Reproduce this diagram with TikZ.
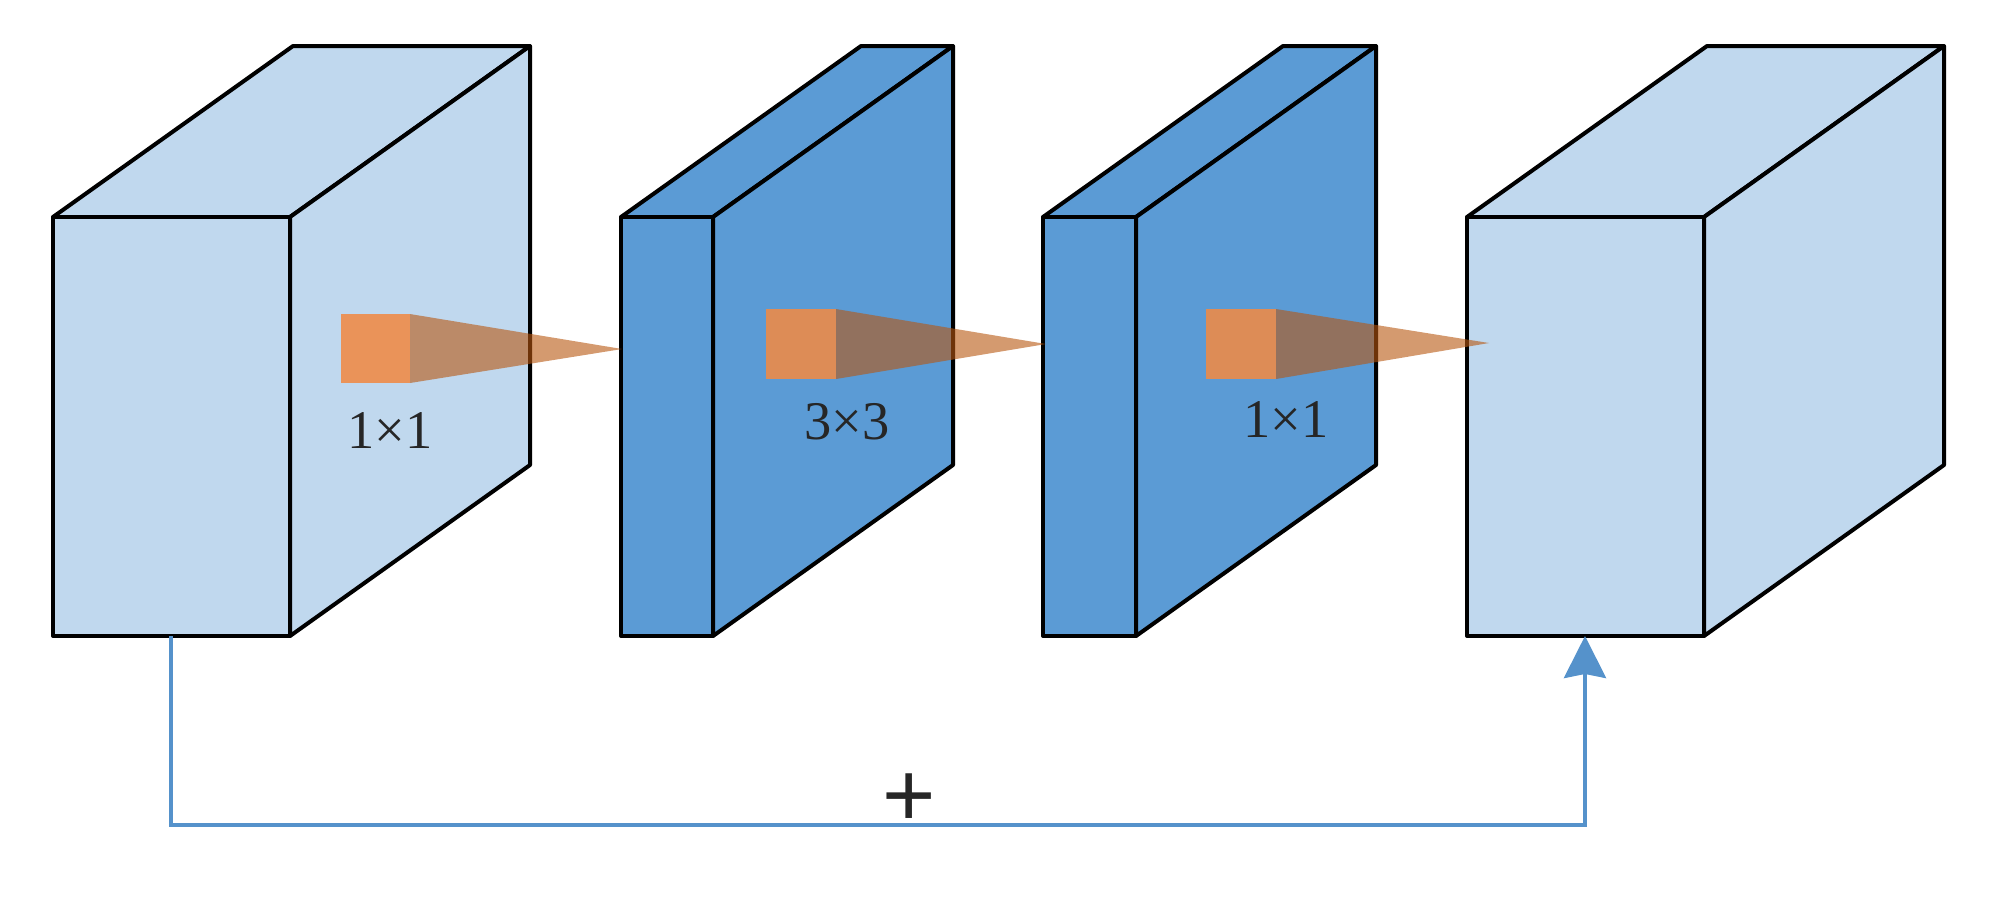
\documentclass[tikz,border=0pt]{standalone}
\usepackage{fontspec}
\setmainfont{Liberation Serif}
\newfontfamily\plusfont{Liberation Sans}
\usetikzlibrary{arrows.meta}
\definecolor{paleblue}{HTML}{C0D8EE}
\definecolor{midblue}{HTML}{5B9BD5}
\definecolor{skipblue}{HTML}{5592CB}
\definecolor{kernorange}{HTML}{F08A45}
\definecolor{conebrown}{HTML}{B8560F}
\definecolor{inkgray}{HTML}{262626}

\begin{document}
\begin{tikzpicture}[x=0.1mm, y=-0.1mm,
  edge/.style={line width=0.4mm, line join=round},
  pale/.style={edge, fill=paleblue},
  deep/.style={edge, fill=midblue},
  kern/.style={fill=kernorange, fill opacity=0.88},
  cone/.style={fill=conebrown, fill opacity=0.6},
  size/.style={text=inkgray, font=\fontsize{15.5}{15.5}\selectfont},
  skip/.style={draw=skipblue, line width=0.38mm, -{Stealth[length=4.2mm, width=4.2mm, inset=0.4mm]}}]
  \useasboundingbox (0,0) rectangle (2004,916);

  \draw[pale] (53,217) -- (293,46) -- (530,46) -- (290,217) -- cycle;
  \draw[pale] (290,217) -- (530,46) -- (530,465) -- (290,636) -- cycle;
  \draw[pale] (53,217) rectangle (290,636);

  \draw[deep] (621,217) -- (861,46) -- (953,46) -- (713,217) -- cycle;
  \draw[deep] (713,217) -- (953,46) -- (953,465) -- (713,636) -- cycle;
  \draw[deep] (621,217) rectangle (713,636);

  \draw[deep] (1043,217) -- (1283,46) -- (1376,46) -- (1136,217) -- cycle;
  \draw[deep] (1136,217) -- (1376,46) -- (1376,465) -- (1136,636) -- cycle;
  \draw[deep] (1043,217) rectangle (1136,636);

  \draw[pale] (1467,217) -- (1707,46) -- (1944,46) -- (1704,217) -- cycle;
  \draw[pale] (1704,217) -- (1944,46) -- (1944,465) -- (1704,636) -- cycle;
  \draw[pale] (1467,217) rectangle (1704,636);

  \fill[kern] (341,314) rectangle (410,383);
  \fill[cone] (410,314) -- (622,349) -- (410,383) -- cycle;
  \fill[kern] (766,309) rectangle (836,379);
  \fill[cone] (836,309) -- (1046,344) -- (836,379) -- cycle;
  \fill[kern] (1206,309) rectangle (1276,379);
  \fill[cone] (1276,309) -- (1489,343) -- (1276,379) -- cycle;

  \node[size] (k1) at (390,430) {1×1};
  \node[size] (k3) at (847,422) {3×3};
  \node[size] (k1b) at (1286,420) {1×1};

  \coordinate (src) at (171,636);
  \coordinate (dst) at (1585,636);
  \draw[skip] (src) -- ++(0,189) -| (dst);
  \node[text=inkgray, font=\plusfont\fontsize{26}{26}\selectfont] (plus) at (909,800) {+};

\end{tikzpicture}
\end{document}
